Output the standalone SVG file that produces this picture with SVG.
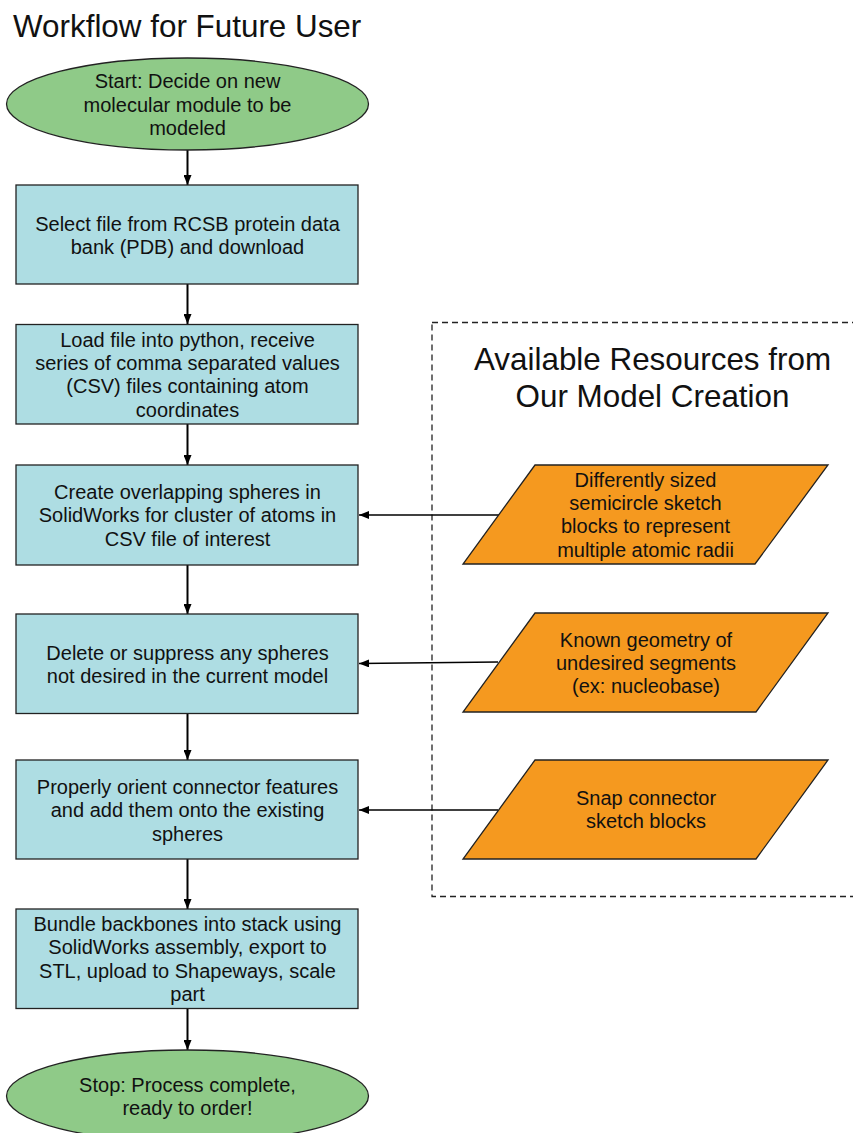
<svg xmlns="http://www.w3.org/2000/svg" width="853" height="1133" viewBox="0 0 853 1133">
<defs>
<marker id="ah" viewBox="0 0 10 8" refX="10" refY="4" markerWidth="10" markerHeight="8" markerUnits="userSpaceOnUse" orient="auto">
<path d="M0,0 L10,4 L0,8 Z" fill="#000"/>
</marker>
<style>
.t{font-family:"Liberation Sans",Arial,sans-serif;font-size:20px;fill:#111;text-anchor:middle}
.h{font-family:"Liberation Sans",Arial,sans-serif;font-size:31.4px;fill:#111}
.term{fill:#8fca88;stroke:#222;stroke-width:1.3}
.proc{fill:#aedde3;stroke:#222;stroke-width:1.3}
.res{fill:#f5991f;stroke:#222;stroke-width:1.3}
.c{stroke:#000;stroke-width:2;fill:none;marker-end:url(#ah)}
.c2{stroke:#000;stroke-width:1.7;fill:none;marker-end:url(#ah)}
</style>
</defs>
<rect width="853" height="1133" fill="#fff"/>
<text class="h" x="13" y="37">Workflow for Future User</text>
<g id="resources">
<rect x="432" y="322.5" width="460" height="574" fill="none" stroke="#222" stroke-width="1.3" stroke-dasharray="6,4"/>
<text class="h" x="652.5" y="370" text-anchor="middle">Available Resources from</text>
<text class="h" x="652.5" y="406.5" text-anchor="middle">Our Model Creation</text>
</g>
<g id="connectors">
<line class="c" x1="187.5" y1="150" x2="187.5" y2="185"/>
<line class="c" x1="187.5" y1="284" x2="187.5" y2="324"/>
<line class="c" x1="187.5" y1="424" x2="187.5" y2="465"/>
<line class="c" x1="187.5" y1="565" x2="187.5" y2="614"/>
<line class="c" x1="187.5" y1="714" x2="187.5" y2="760"/>
<line class="c" x1="187.5" y1="859" x2="187.5" y2="909"/>
<line class="c" x1="187.5" y1="1008" x2="187.5" y2="1050"/>
<line class="c2" x1="499" y1="515" x2="359" y2="515"/>
<line class="c2" x1="498" y1="662" x2="359" y2="663.5"/>
<line class="c2" x1="498" y1="810" x2="359" y2="810"/>
</g>
<g id="start">
<ellipse class="term" cx="187.5" cy="104" rx="181" ry="46"/>
<text class="t" x="187.5" y="88">Start: Decide on new</text>
<text class="t" x="187.5" y="111.5">molecular module to be</text>
<text class="t" x="187.5" y="135">modeled</text>
</g>
<g id="step1">
<rect class="proc" x="16" y="185" width="342" height="99"/>
<text class="t" x="187.5" y="231">Select file from RCSB protein data</text>
<text class="t" x="187.5" y="254.3">bank (PDB) and download</text>
</g>
<g id="step2">
<rect class="proc" x="16" y="324.5" width="342" height="99.5"/>
<text class="t" x="187.5" y="346.5">Load file into python, receive</text>
<text class="t" x="187.5" y="370">series of comma separated values</text>
<text class="t" x="187.5" y="393.3">(CSV) files containing atom</text>
<text class="t" x="187.5" y="416.6">coordinates</text>
</g>
<g id="step3">
<rect class="proc" x="16" y="465" width="342" height="100"/>
<text class="t" x="187.5" y="499">Create overlapping spheres in</text>
<text class="t" x="187.5" y="522.3">SolidWorks for cluster of atoms in</text>
<text class="t" x="187.5" y="545.6">CSV file of interest</text>
</g>
<g id="step4">
<rect class="proc" x="16" y="614" width="342" height="99.5"/>
<text class="t" x="187.5" y="659.5">Delete or suppress any spheres</text>
<text class="t" x="187.5" y="682.8">not desired in the current model</text>
</g>
<g id="step5">
<rect class="proc" x="16" y="760" width="342" height="99"/>
<text class="t" x="187.5" y="794">Properly orient connector features</text>
<text class="t" x="187.5" y="817.3">and add them onto the existing</text>
<text class="t" x="187.5" y="840.6">spheres</text>
</g>
<g id="step6">
<rect class="proc" x="16" y="909" width="342" height="99.5"/>
<text class="t" x="187.5" y="931">Bundle backbones into stack using</text>
<text class="t" x="187.5" y="954.3">SolidWorks assembly, export to</text>
<text class="t" x="187.5" y="977.6">STL, upload to Shapeways, scale</text>
<text class="t" x="187.5" y="1001">part</text>
</g>
<g id="stop">
<ellipse class="term" cx="187.5" cy="1096" rx="181" ry="46"/>
<text class="t" x="187.5" y="1092">Stop: Process complete,</text>
<text class="t" x="187.5" y="1115.3">ready to order!</text>
</g>
<g id="res1">
<polygon class="res" points="535,465 828,465 755,564 463,564"/>
<text class="t" x="645.5" y="486.8">Differently sized</text>
<text class="t" x="645.5" y="510.1">semicircle sketch</text>
<text class="t" x="645.5" y="533.4">blocks to represent</text>
<text class="t" x="645.5" y="556.7">multiple atomic radii</text>
</g>
<g id="res2">
<polygon class="res" points="535,613 828,613 756,712 463,712"/>
<text class="t" x="646" y="646.5">Known geometry of</text>
<text class="t" x="646" y="669.8">undesired segments</text>
<text class="t" x="646" y="693.1">(ex: nucleobase)</text>
</g>
<g id="res3">
<polygon class="res" points="535,760 828,760 756,859 463,859"/>
<text class="t" x="646" y="805">Snap connector</text>
<text class="t" x="646" y="828.3">sketch blocks</text>
</g>
</svg>
